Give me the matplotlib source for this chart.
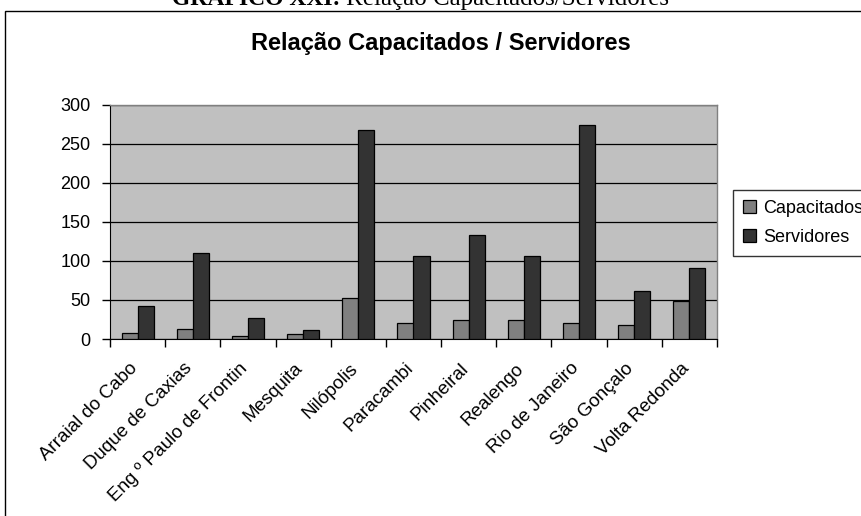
import matplotlib
matplotlib.use("Agg")
import matplotlib.pyplot as plt
import matplotlib.transforms as mtransforms
import numpy as np
from matplotlib.patches import Rectangle

# Data
municipios = ["Arraial do Cabo", "Duque de Caxias", "Eng º Paulo de Frontin", "Mesquita",
              "Nilópolis", "Paracambi", "Pinheiral", "Realengo", "Rio de Janeiro",
              "São Gonçalo", "Volta Redonda"]
capacitados = [8, 13, 4, 6, 52, 21, 25, 25, 21, 18, 49]
servidores = [42, 110, 27, 12, 268, 107, 133, 107, 274, 61, 91]
y_ticks = [0, 50, 100, 150, 200, 250, 300]

W, H = 862, 516
fig = plt.figure(figsize=(W / 100, H / 100), dpi=100)
fig.patch.set_facecolor("white")

sans = "Liberation Sans"
serif = "Liberation Serif"

# Outer frame around the chart
fig.patches.append(Rectangle((5 / W, -0.5), 2.0, 0.5 + 1 - 11 / H, transform=fig.transFigure,
                             fill=False, edgecolor="black", linewidth=1.0))

# Caption above the frame
cap_y = 1 - 5 / H
fig.text(172 / W, cap_y, "GRÁFICO XXI:", ha="left", va="baseline",
         family=serif, fontweight="bold", fontsize=17)
fig.text(346 / W, cap_y, "Relação Capacitados/Servidores", ha="left", va="baseline",
         family=serif, fontsize=18)

# Chart title
fig.text(441 / W, 1 - 50 / H, "Relação Capacitados / Servidores", ha="center", va="baseline",
         family=sans, fontweight="bold", fontsize=17)

ax = fig.add_axes([110 / W, 1 - 339 / H, (717 - 110) / W, (339 - 105) / H])
ax.set_facecolor("#C0C0C0")

x = np.arange(len(municipios))
bw = 0.29
ax.bar(x - bw / 2, capacitados, bw, color="#808080", edgecolor="black", linewidth=0.9,
       label="Capacitados", zorder=3)
ax.bar(x + bw / 2, servidores, bw, color="#333333", edgecolor="black", linewidth=0.9,
       label="Servidores", zorder=3)

ax.set_xlim(-0.5, len(municipios) - 0.5)
ax.set_ylim(0, 300)
ax.set_yticks(y_ticks)
ax.set_yticklabels([str(v) for v in y_ticks], family=sans, fontsize=13)
ax.yaxis.grid(True, color="black", linewidth=0.9, zorder=1)
ax.set_axisbelow(True)

ax.set_xticks(np.arange(len(municipios) + 1) - 0.5)
ax.set_xticklabels([])
ax.set_xticks(x, minor=True)
ax.set_xticklabels(municipios, minor=True, rotation=45, ha="right", rotation_mode="anchor",
                   family=sans, fontsize=13.5)
ax.tick_params(axis="x", which="minor", length=0, pad=15)
ax.tick_params(axis="x", which="major", length=6, width=1, color="black", direction="out")
ax.tick_params(axis="y", length=6, width=1, color="black", direction="out", pad=8)

shift = mtransforms.ScaledTranslation(-0.09, 0, fig.dpi_scale_trans)
for lbl in ax.get_xticklabels(minor=True):
    lbl.set_transform(lbl.get_transform() + shift)

for side in ["top", "right"]:
    ax.spines[side].set_color("#808080")
    ax.spines[side].set_linewidth(1.0)
ax.spines["left"].set_color("black")
ax.spines["bottom"].set_color("black")

leg = fig.legend(loc="upper left", bbox_to_anchor=(733 / W, 1 - 190 / H),
                 prop={"family": sans, "size": 13}, frameon=True, fancybox=False,
                 edgecolor="black", handlelength=0.7, handleheight=0.7, handletextpad=0.4,
                 borderpad=0.55, labelspacing=0.65, borderaxespad=0)
leg.get_frame().set_linewidth(1.0)

fig.savefig("out.png", dpi=100)
